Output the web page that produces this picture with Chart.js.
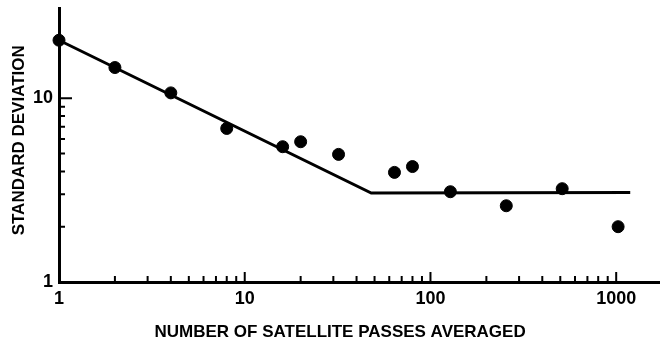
<!DOCTYPE html>
<html>
<head>
<meta charset="utf-8">
<script src="https://cdn.jsdelivr.net/npm/chart.js@4/dist/chart.umd.min.js"></script>
<style>
    html, body { margin: 0; padding: 0; background: #fff; }
    #wrap { width: 666px; height: 343px; }
</style>
</head>
<body>
<div id="wrap"><canvas id="sdChart" width="666" height="343"></canvas></div>
<script>
// Measured points (number of passes averaged vs standard deviation)
const passes = [1, 2, 4, 8, 16, 20, 32, 64, 80, 128, 256, 512, 1024];
const stdDev = [20.7, 14.7, 10.7, 6.85, 5.45, 5.8, 4.95, 3.95, 4.25, 3.1, 2.6, 3.22, 2.0];

// Fitted curve: slope down to the knee, then flat
const fitX = [1, 48, 1190];
const fitY = [20.7, 3.05, 3.07];

// Labelled ticks
const xTickLabels = [1, 10, 100, 1000];
const yTickLabels = [1, 10];

// Minor tick multipliers inside each decade
const minorSteps = [2, 3, 4, 5, 6, 7, 8, 9];

const tickFont = { family: 'Liberation Sans', size: 18, weight: 'bold' };
const titleFont = { family: 'Liberation Sans', size: 17, weight: 'bold' };

// Inward tick marks, positioned with the chart's own scales
const inwardTicks = {
    id: 'inwardTicks',
    afterDraw(chart) {
        const ctx = chart.ctx;
        const xs = chart.scales.x;
        const ys = chart.scales.y;
        const area = chart.chartArea;
        ctx.save();
        ctx.strokeStyle = '#000';
        ctx.lineWidth = 2;
        ctx.beginPath();
        // x axis: decades 1..1000
        [1, 10, 100].forEach(dec => {
            minorSteps.forEach(m => {
                const px = xs.getPixelForValue(m * dec);
                ctx.moveTo(px, area.bottom);
                ctx.lineTo(px, area.bottom - 6);
            });
        });
        [10, 100, 1000].forEach(v => {
            const px = xs.getPixelForValue(v);
            ctx.moveTo(px, area.bottom);
            ctx.lineTo(px, area.bottom - 10);
        });
        // y axis: decade 1..10
        minorSteps.forEach(m => {
            const py = ys.getPixelForValue(m);
            ctx.moveTo(area.left, py);
            ctx.lineTo(area.left + 6, py);
        });
        const p10 = ys.getPixelForValue(10);
        ctx.moveTo(area.left, p10);
        ctx.lineTo(area.left + 13, p10);
        ctx.stroke();
        ctx.restore();
    }
};

const ctx = document.getElementById('sdChart').getContext('2d');
new Chart(ctx, {
    type: 'scatter',
    data: {
        datasets: [
            {
                label: 'Fit',
                type: 'line',
                data: fitX.map((x, i) => ({ x: x, y: fitY[i] })),
                borderColor: '#000',
                borderWidth: 3,
                pointRadius: 0,
                fill: false,
                tension: 0,
                clip: false,
                order: 2
            },
            {
                label: 'Measured',
                data: passes.map((x, i) => ({ x: x, y: stdDev[i] })),
                backgroundColor: '#000',
                borderColor: '#000',
                pointRadius: 6,
                clip: false,
                order: 1
            }
        ]
    },
    options: {
        responsive: false,
        animation: false,
        layout: {
            padding: { left: 0, top: 8, right: 3, bottom: 0 }
        },
        plugins: {
            legend: { display: false },
            tooltip: { enabled: false }
        },
        scales: {
            x: {
                type: 'logarithmic',
                min: 1,
                max: 1700,
                afterBuildTicks: scale => {
                    scale.ticks = xTickLabels.map(v => ({ value: v }));
                },
                afterFit: scale => { scale.height = 61; },
                ticks: {
                    color: '#000',
                    font: tickFont,
                    padding: 6,
                    maxRotation: 0,
                    autoSkip: false,
                    callback: v => String(v)
                },
                grid: { display: false, drawTicks: false },
                border: { display: true, color: '#000', width: 3 },
                title: {
                    display: true,
                    // trailing spaces pull the centred text left, as in the original
                    text: 'NUMBER OF SATELLITE PASSES AVERAGED        ',
                    color: '#000',
                    font: titleFont,
                    padding: { top: 10, bottom: 0 }
                }
            },
            y: {
                type: 'logarithmic',
                min: 1,
                max: 31,
                afterBuildTicks: scale => {
                    scale.ticks = yTickLabels.map(v => ({ value: v }));
                },
                afterFit: scale => {
                    scale.width = 59;
                    // the top tick is not at the axis end, so no label overhang is needed
                    scale.paddingTop = 0;
                    scale.paddingBottom = 0;
                },
                ticks: {
                    color: '#000',
                    font: tickFont,
                    padding: 6,
                    autoSkip: false,
                    callback: v => String(v)
                },
                grid: { display: false, drawTicks: false },
                border: { display: true, color: '#000', width: 3 },
                title: {
                    display: true,
                    text: '  STANDARD DEVIATION',
                    color: '#000',
                    font: titleFont,
                    padding: { top: 9, bottom: 4 }
                }
            }
        }
    },
    plugins: [inwardTicks]
});
</script>
</body>
</html>
